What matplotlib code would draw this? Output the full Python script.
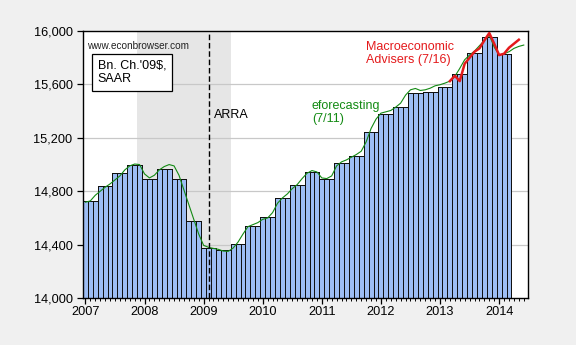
import matplotlib
matplotlib.use("Agg")
import matplotlib.pyplot as plt
import numpy as np

plt.rcParams['font.family'] = ['Liberation Sans', 'DejaVu Sans']

# Quarterly real GDP (Bn. Ch. 2009$, SAAR), 2007Q1 .. 2014Q1
quarters = ["2007Q1", "2007Q2", "2007Q3", "2007Q4", "2008Q1", "2008Q2", "2008Q3", "2008Q4",
            "2009Q1", "2009Q2", "2009Q3", "2009Q4", "2010Q1", "2010Q2", "2010Q3", "2010Q4",
            "2011Q1", "2011Q2", "2011Q3", "2011Q4", "2012Q1", "2012Q2", "2012Q3", "2012Q4",
            "2013Q1", "2013Q2", "2013Q3", "2013Q4", "2014Q1"]
gdp_q = [14726, 14839, 14939, 14996, 14895, 14966, 14895, 14580,
         14378, 14360, 14405, 14543, 14605, 14746, 14846, 14942,
         14894, 15011, 15062, 15242, 15382, 15428, 15536, 15540,
         15584, 15680, 15839, 15956, 15830]

# eforecasting monthly GDP (7/11), Jan 2007 .. Jun 2014
eforecast_m = [14718, 14728, 14770, 14800, 14830, 14855, 14885, 14915, 14960, 14990, 15004, 15000,
               14930, 14900, 14920, 14960, 14985, 15000, 14990, 14920, 14810, 14700, 14590, 14480,
               14395, 14380, 14372, 14365, 14352, 14350, 14375, 14420, 14480, 14535, 14550, 14565,
               14590, 14600, 14640, 14710, 14750, 14780, 14820, 14850, 14895, 14935, 14955, 14945,
               14900, 14895, 14915, 14990, 15020, 15035, 15055, 15075, 15100, 15170, 15270, 15340,
               15385, 15395, 15405, 15430, 15460, 15520, 15560, 15570, 15555, 15560, 15572, 15590,
               15598, 15610, 15625, 15660, 15720, 15785, 15820, 15850, 15890, 15930, 15970, 15880,
               15820, 15830, 15845, 15870, 15885, 15895]

# Macroeconomic Advisers monthly GDP (7/16), Mar 2013 .. May 2014
ma_start = 74
ma_m = [15625, 15665, 15625, 15755, 15800, 15845, 15870, 15930, 15985, 15905,
        15820, 15830, 15875, 15905, 15935]

year_labels = ["2007", "2008", "2009", "2010", "2011", "2012", "2013", "2014"]

recession = (10.5, 29.5)   # Dec 2007 - Jun 2009 (month index)
arra_month = 25            # Feb 2009

fig = plt.figure(figsize=(5.76, 3.45), dpi=100)
fig.patch.set_facecolor('#F0F0F0')
ax = fig.add_axes([0.144, 0.136, 0.773, 0.774])
ax.set_facecolor('white')

# monthly bars from quarterly values
bar_vals = np.repeat(gdp_q, 3)
months = np.arange(len(bar_vals))
ax.axvspan(recession[0], recession[1], color='#E6E6E6', zorder=0, lw=0)
for yv in [14400, 14800, 15200, 15600]:
    ax.axhline(yv, color='#C8C8C8', lw=0.9, zorder=1)
ax.bar(months, bar_vals - 14000, bottom=14000, width=1.0, color='#9DBDF3',
       edgecolor='#111111', linewidth=0.7, zorder=2, antialiased=False)

ax.plot(np.arange(len(eforecast_m)), eforecast_m, color='#138A13', lw=0.8, zorder=3)
ax.plot(np.arange(ma_start, ma_start + len(ma_m)), ma_m, color='#E41A1C', lw=1.8, zorder=4)

ax.axvline(arra_month, color='black', lw=1.0, linestyle=(0, (4, 2)), zorder=3)

ax.set_xlim(-0.5, 89.9)
ax.set_ylim(14000, 16000)
ax.set_yticks([14000, 14400, 14800, 15200, 15600, 16000])
ax.set_yticklabels([f"{v:,}" for v in [14000, 14400, 14800, 15200, 15600, 16000]])
ax.set_xticks(np.arange(0, 85, 12))
ax.set_xticklabels(year_labels)
ax.set_xticks(np.arange(0, 90, 1), minor=True)
ax.tick_params(axis='both', which='major', labelsize=9.2, direction='out', length=4, width=0.9, colors='black')
ax.tick_params(axis='x', which='minor', direction='out', length=2.5, width=0.7)
ax.tick_params(axis='x', pad=2)
for s in ax.spines.values():
    s.set_color('black')
    s.set_linewidth(1.0)

ax.text(0.3, 15885, "www.econbrowser.com", fontsize=7.2, color='#222222', va='center', ha='left')
ax.text(2.5, 15690, "Bn. Ch.'09$,\nSAAR", fontsize=9, va='center', ha='left', linespacing=1.2,
        bbox=dict(facecolor='white', edgecolor='black', boxstyle='square,pad=0.45', lw=0.9), zorder=6)
ax.text(26.2, 15370, "ARRA", fontsize=9, va='center', ha='left')
ax.text(46.0, 15390, "eforecasting\n(7/11)", fontsize=9, color='#138A13', va='center', ha='left',
        linespacing=1.15)
ax.text(57.0, 15830, "Macroeconomic\nAdvisers (7/16)", fontsize=9, color='#E41A1C', va='center',
        ha='left', linespacing=1.15)

fig.savefig("out.png", dpi=100, facecolor=fig.get_facecolor())
